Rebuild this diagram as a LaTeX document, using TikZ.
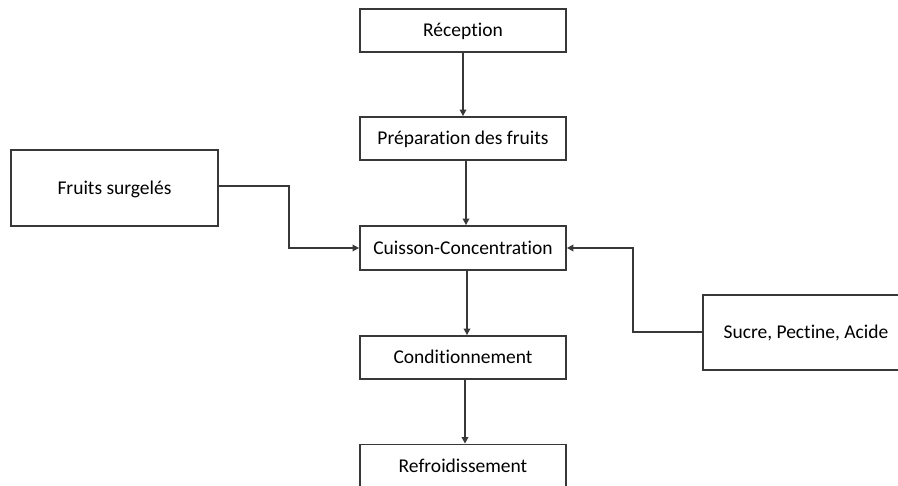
\documentclass[tikz,border=0pt]{standalone}
\usepackage{fontspec}
\setmainfont[Ligatures={NoCommon,NoDiscretionary}]{Carlito}
\usetikzlibrary{arrows.meta}
\begin{document}
\begin{tikzpicture}[x=1pt,y=-1pt,
  stepbox/.style={draw=black!78,line width=1.8pt,fill=white,inner sep=0pt,
    font=\fontsize{19.5pt}{23pt}\selectfont,text=black,
    text height=12.6pt,text depth=0pt},
  flow/.style={draw=black!78,line width=1.8pt,
    -{Triangle[length=6.5pt,width=6.5pt]}}]
\useasboundingbox (0,0) rectangle (898,486);
\begin{scope}
\clip (0,0) rectangle (898,486);
% main process column
\node[stepbox,minimum width=206pt,minimum height=43pt] (rec) at (463,30.5) {Réception};
\node[stepbox,minimum width=206pt,minimum height=43pt] (prep) at (463,138.5) {Préparation des fruits};
\node[stepbox,minimum width=206pt,minimum height=44pt] (cuis) at (463,248) {Cuisson-Concentration};
\node[stepbox,minimum width=206pt,minimum height=43pt] (cond) at (463,357.5) {Conditionnement};
\node[stepbox,minimum width=206pt,minimum height=43pt] (refr) at (463,466) {Refroidissement};
% side inputs
\node[stepbox,minimum width=207pt,minimum height=76pt] (frs) at (114.5,188) {Fruits surgelés};
\node[stepbox,minimum width=206pt,minimum height=75pt] (suc) at (806,332.5) {Sucre, Pectine, Acide};
% connectors
\draw[flow] (rec.south) -- (prep.north);
\draw[flow] ([xshift=3pt]prep.south) -- ([xshift=3pt]cuis.north);
\draw[flow] ([xshift=4pt]cuis.south) -- ([xshift=4pt]cond.north);
\draw[flow] ([xshift=2pt]cond.south) -- ([xshift=2pt]refr.north);
\coordinate (jl) at (289,186);
\coordinate (jr) at (633,332);
\draw[flow] (frs.east |- jl) -- (jl) |- (cuis.west);
\draw[flow] (suc.west |- jr) -- (jr) |- (cuis.east);
\end{scope}
\end{tikzpicture}
\end{document}
